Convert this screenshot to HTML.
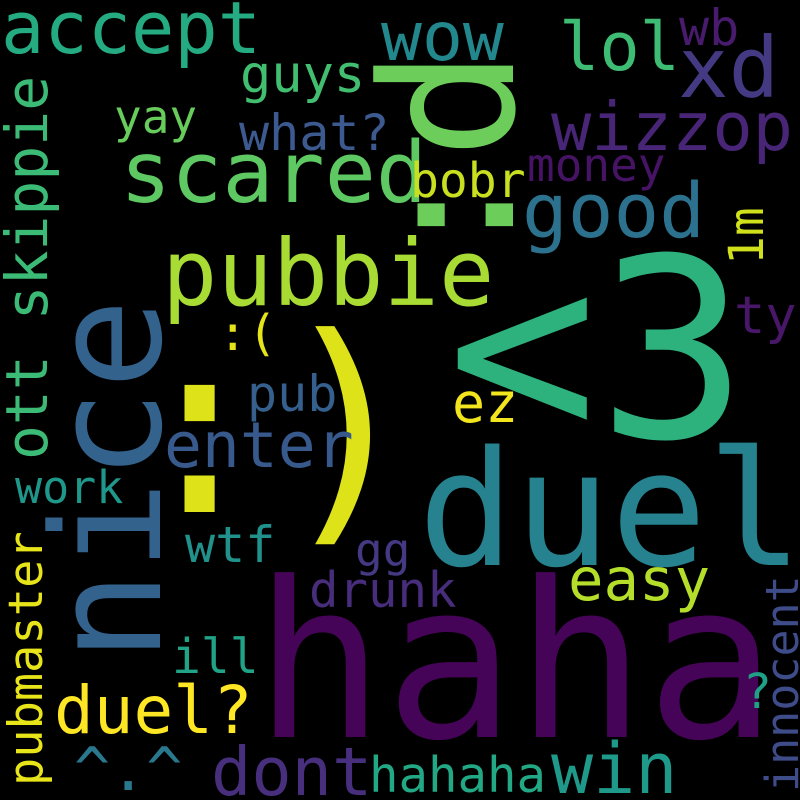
<!DOCTYPE html>
<html>
<head>
<meta charset="utf-8">
<style>
html,body{margin:0;padding:0;background:#000;}
svg{display:block;}
text{font-family:"DejaVu Sans Mono","Liberation Mono",monospace;}
</style>
</head>
<body>
<svg width="800" height="800" viewBox="0 0 800 800">
<rect x="0" y="0" width="800" height="800" fill="#000"/>
<text x="254" y="737" font-size="217" fill="#450457">haha</text>
<text x="418" y="565" font-size="160" fill="#26828e">duel</text>
<text x="447" y="437" font-size="250" fill="#2db27d">&lt;3</text>
<text transform="translate(160,662) rotate(-90)" font-size="151" fill="#33638d">nice</text>
<text x="126" y="512" font-size="245" fill="#dde318">:)</text>
<text transform="translate(513,270) rotate(-90)" font-size="184" fill="#6ccd5a">:d</text>
<text x="1" y="53" font-size="72" fill="#25ab82">accept</text>
<text x="240" y="92" font-size="52" fill="#42be71">guys</text>
<text x="114" y="133" font-size="46" fill="#67cc5c">yay</text>
<text x="239" y="150" font-size="50" fill="#3c5a8f">what?</text>
<text x="120" y="202" font-size="85" fill="#5ec962">scared</text>
<text x="162" y="305" font-size="92" fill="#a8db34">pubbie</text>
<text x="218" y="350" font-size="49" fill="#e5e419">:(</text>
<text x="247" y="411" font-size="50" fill="#355f8d">pub</text>
<text x="164" y="467" font-size="63" fill="#38598c">enter</text>
<text transform="translate(47,460) rotate(-90)" font-size="58" fill="#3bbb75">ott skippie</text>
<text x="15" y="503" font-size="45" fill="#1f978b">work</text>
<text transform="translate(42,786) rotate(-90)" font-size="47" fill="#e7e419">pubmaster</text>
<text x="185" y="562" font-size="50" fill="#21918c">wtf</text>
<text x="172" y="673" font-size="48" fill="#20a386">ill</text>
<text x="54" y="733" font-size="66" fill="#fde725">duel?</text>
<text x="74" y="790" font-size="60" fill="#2a788e">^.^</text>
<text x="211" y="795" font-size="67" fill="#472f7d">dont</text>
<text x="369" y="792" font-size="49" fill="#22a884">hahaha</text>
<text x="551" y="793" font-size="70" fill="#1f9a8a">win</text>
<text transform="translate(798,792) rotate(-90)" font-size="45" fill="#3e4c8a">innocent</text>
<text x="743" y="708" font-size="48" fill="#1fa187">?</text>
<text x="568" y="600" font-size="59" fill="#b5de2b">easy</text>
<text x="309" y="607" font-size="49" fill="#472d7b">drunk</text>
<text x="355" y="566" font-size="46" fill="#443983">gg</text>
<text x="452" y="422" font-size="55" fill="#f2e51d">ez</text>
<text x="381" y="60" font-size="68" fill="#23888e">wow</text>
<text x="559" y="70" font-size="67" fill="#3fbc73">lol</text>
<text x="679" y="45" font-size="50" fill="#481b6d">wb</text>
<text x="678" y="97" font-size="84" fill="#443a83">xd</text>
<text x="551" y="150" font-size="67" fill="#482576">wizzop</text>
<text x="527" y="181" font-size="46" fill="#471365">money</text>
<text x="410" y="197" font-size="48" fill="#c8e020">bobr</text>
<text x="522" y="237" font-size="76" fill="#2c728e">good</text>
<text transform="translate(763,265) rotate(-90)" font-size="48" fill="#d0e11c">1m</text>
<text x="734" y="333" font-size="52" fill="#481769">ty</text>
</svg>
</body>
</html>
